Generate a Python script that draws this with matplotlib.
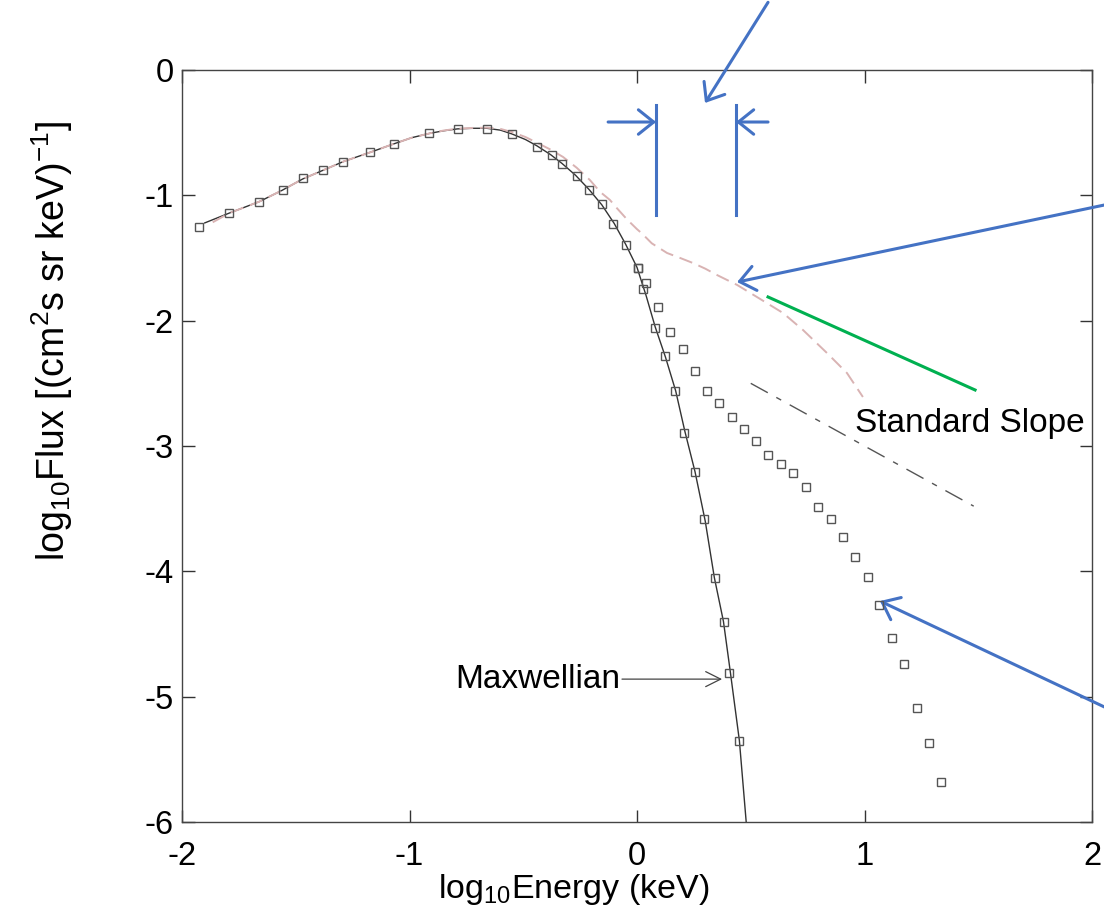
import matplotlib
matplotlib.use("Agg")
import matplotlib.pyplot as plt

plt.rcParams['font.family'] = ['Liberation Sans', 'DejaVu Sans']
plt.rcParams['mathtext.fontset'] = 'custom'
plt.rcParams['mathtext.rm'] = 'Liberation Sans'
plt.rcParams['mathtext.it'] = 'Liberation Sans'

# ---------------- data ----------------
# Maxwellian model curve (solid black)
maxw_line_x = [-1.90, -1.79, -1.66, -1.56, -1.47, -1.38, -1.29, -1.17, -1.07, -0.99, -0.91,
               -0.85, -0.79, -0.72, -0.66, -0.60, -0.55, -0.49, -0.44, -0.38, -0.33, -0.27,
               -0.21, -0.155, -0.10, -0.05, 0.00, 0.04, 0.08, 0.125, 0.17, 0.21, 0.255,
               0.30, 0.34, 0.38, 0.41, 0.45, 0.48]
maxw_line_y = [-1.22, -1.14, -1.05, -0.96, -0.87, -0.80, -0.73, -0.655, -0.59, -0.54, -0.505,
               -0.485, -0.47, -0.465, -0.465, -0.48, -0.51, -0.555, -0.605, -0.675, -0.745, -0.84,
               -0.955, -1.075, -1.225, -1.39, -1.575, -1.80, -2.05, -2.29, -2.56, -2.88, -3.205,
               -3.60, -4.05, -4.40, -4.80, -5.35, -6.00]

# Maxwellian samples (open squares)
maxw_pts_x = [-1.924, -1.792, -1.660, -1.557, -1.469, -1.382, -1.294, -1.174, -1.067, -0.913,
              -0.785, -0.660, -0.548, -0.438, -0.375, -0.328, -0.265, -0.211, -0.155, -0.104,
              -0.048, 0.003, 0.025, 0.079, 0.123, 0.167, 0.208, 0.255, 0.296, 0.342, 0.384,
              0.406, 0.450]
maxw_pts_y = [-1.255, -1.143, -1.051, -0.957, -0.864, -0.798, -0.731, -0.657, -0.588, -0.500,
              -0.471, -0.468, -0.513, -0.612, -0.678, -0.750, -0.846, -0.957, -1.072, -1.231,
              -1.393, -1.577, -1.748, -2.056, -2.282, -2.561, -2.893, -3.208, -3.584, -4.051, -4.402,
              -4.809, -5.351]

# Non-thermal tail samples (open squares)
tail_pts_x = [0.006, 0.038, 0.094, 0.145, 0.201, 0.255, 0.307, 0.361, 0.416, 0.471, 0.525,
              0.577, 0.633, 0.687, 0.743, 0.794, 0.851, 0.904, 0.958, 1.014, 1.062, 1.119,
              1.175, 1.229, 1.282, 1.336]
tail_pts_y = [-1.577, -1.700, -1.888, -2.088, -2.229, -2.400, -2.561, -2.660, -2.772, -2.867,
              -2.957, -3.069, -3.146, -3.213, -3.325, -3.484, -3.585, -3.724, -3.888, -4.048,
              -4.265, -4.535, -4.742, -5.093, -5.372, -5.678]

# Kappa-like model curve (pink dashed)
kappa_x = [-1.865, -1.79, -1.66, -1.56, -1.47, -1.38, -1.29, -1.17, -1.07, -0.99, -0.91, -0.85,
           -0.79, -0.72, -0.66, -0.60, -0.55, -0.49, -0.44, -0.38, -0.325, -0.265, -0.207,
           -0.163, -0.119, -0.089, -0.045, 0.0, 0.021, 0.065, 0.132, 0.19, 0.246, 0.30, 0.352,
           0.44, 0.527, 0.642, 0.73, 0.835, 0.923, 0.993]
kappa_y = [-1.215, -1.14, -1.05, -0.96, -0.87, -0.80, -0.73, -0.655, -0.59, -0.54, -0.505, -0.483,
           -0.468, -0.462, -0.46, -0.47, -0.495, -0.535, -0.58, -0.635, -0.694, -0.78, -0.878,
           -0.971, -1.037, -1.101, -1.19, -1.27, -1.303, -1.383, -1.46, -1.50, -1.54, -1.585, -1.636,
           -1.715, -1.811, -1.939, -2.075, -2.258, -2.418, -2.609]

# Standard slope reference (dash-dot)
slope_x = [0.50, 1.48]
slope_y = [-2.50, -3.48]

xticks = [-2, -1, 0, 1, 2]
yticks = [0, -1, -2, -3, -4, -5, -6]

# ---------------- figure ----------------
W, H = 1104, 913
fig = plt.figure(figsize=(W / 100, H / 100), dpi=100)
ax = fig.add_axes([182 / W, 1 - 822 / H, 910 / W, 752 / H])

ax.plot(maxw_line_x, maxw_line_y, color='#333333', lw=1.0, zorder=3)
ax.plot(kappa_x, kappa_y, color='#d9b3b3', lw=1.4, dashes=(7, 3.5), zorder=4)
ax.plot(slope_x, slope_y, color='#555555', lw=1.0, dashes=(14, 7, 4, 7), zorder=3)
ax.plot(maxw_pts_x, maxw_pts_y, ls='none', marker='s', ms=6, mfc='none',
        mec='#555555', mew=1.0, zorder=5)
ax.plot(tail_pts_x, tail_pts_y, ls='none', marker='s', ms=6, mfc='none',
        mec='#555555', mew=1.0, zorder=5)

ax.set_xlim(-2, 2)
ax.set_ylim(-6, 0)
ax.set_xticks(xticks)
ax.set_yticks(yticks)
ax.set_xticklabels([str(v) for v in xticks])
ax.set_yticklabels([str(v) for v in yticks])
ax.tick_params(direction='in', length=9, width=1, colors='#333333', labelcolor='black',
               labelsize=23.5, top=True, right=True)
ax.tick_params(axis='x', pad=14)
ax.tick_params(axis='y', pad=6)
for s in ax.spines.values():
    s.set_color('#444444')
    s.set_linewidth(1.0)

ax.set_xlabel(r'log$_{10}$Energy (keV)', fontsize=24.5)
ax.xaxis.set_label_coords(0.43, -0.067)
ax.set_ylabel(r'log$_{10}$Flux [(cm$^2$s sr keV)$^{-1}$]', fontsize=27)
ax.yaxis.set_label_coords(-0.118, 0.64)

# ---------------- annotations ----------------
blue = '#4472C4'
green = '#00B050'
bstyle = dict(arrowstyle='->,head_length=0.5,head_width=0.4', color=blue, lw=2.2,
              mutation_scale=22, shrinkA=0, shrinkB=0)

# top arrow
ax.annotate('', xy=(0.299, -0.263), xytext=(0.576, 0.54), arrowprops=bstyle,
            annotation_clip=False)
# bracket verticals
ax.plot([0.084, 0.084], [-0.279, -1.157], color=blue, lw=2.2, zorder=6)
ax.plot([0.435, 0.435], [-0.279, -1.157], color=blue, lw=2.2, zorder=6)
# bracket arrows
ax.annotate('', xy=(0.084, -0.415), xytext=(-0.127, -0.415), arrowprops=bstyle)
ax.annotate('', xy=(0.435, -0.415), xytext=(0.576, -0.415), arrowprops=bstyle)
# arrow to kappa curve
ax.annotate('', xy=(0.440, -1.692), xytext=(2.06, -1.075), arrowprops=bstyle,
            annotation_clip=False)
# arrow to tail points
ax.annotate('', xy=(1.068, -4.237), xytext=(2.06, -5.087), arrowprops=bstyle,
            annotation_clip=False)
# green line
ax.plot([0.576, 1.486], [-1.811, -2.553], color=green, lw=2.2, zorder=6)

ax.text(0.958, -2.82, 'Standard Slope', fontsize=24, va='center', ha='left', zorder=7)
ax.text(-0.075, -4.86, 'Maxwellian', fontsize=24, va='center', ha='right')
ax.annotate('', xy=(0.374, -4.86), xytext=(-0.066, -4.86),
            arrowprops=dict(arrowstyle='->,head_length=0.6,head_width=0.3', color='#444444',
                            lw=0.9, mutation_scale=18, shrinkA=0, shrinkB=0))

fig.savefig('out.png', dpi=100)
